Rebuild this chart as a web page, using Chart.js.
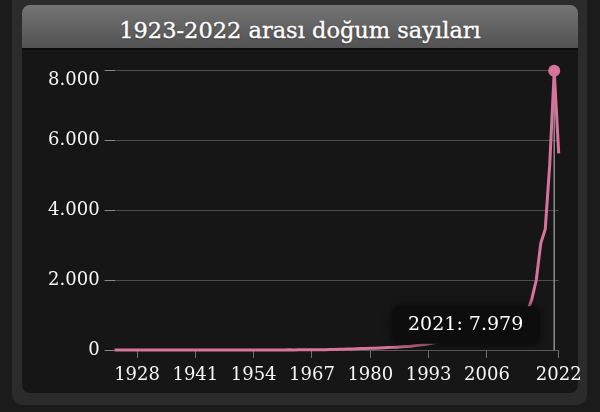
<!DOCTYPE html>
<html><head><meta charset="utf-8">
<script src="https://cdn.jsdelivr.net/npm/chart.js@4.4.0/dist/chart.umd.min.js"></script>
<style>
html,body{margin:0;padding:0;background:#1b1b1b;width:600px;height:412px;overflow:hidden;}
#card{position:absolute;left:12px;top:-12px;width:575px;height:417px;background:#2b2b2b;border-radius:10px;}
#panel{position:absolute;left:22px;top:5px;width:556px;height:388px;background:#161616;border-radius:8px;overflow:hidden;}
#titlebar{position:absolute;left:0;top:0;width:556px;height:45px;box-sizing:border-box;padding-top:7px;background:linear-gradient(#747474,#525252);border-bottom:2px solid #0c0c0c;display:flex;align-items:center;justify-content:center;color:#fff;font-family:"DejaVu Serif",serif;font-size:22.5px;-webkit-text-stroke:0.35px #fff;text-shadow:0 1px 2px rgba(0,0,0,.45);}
#c{position:absolute;left:0;top:0;}
</style></head>
<body>
<div id="card"></div>
<div id="panel"><div id="titlebar">1923-2022 arası doğum sayıları</div></div>
<canvas id="c" width="600" height="412"></canvas>
<script>
// ---- data ----
const startYear = 1923;
const births = [
  0,0,1,0,0,1,0,0,0,1,0,0,1,0,0,0,1,
  1,0,0,1,1,0,1,1,0,1,2,1,1,2,1,2,2,1,3,2,
  3,2,4,3,5,4,6,5,7,8,
  10,12,15,18,22,26,30,35,40,45,
  48,52,58,62,68,75,82,90,100,110,
  125,140,160,180,200,225,250,275,300,330,
  360,390,420,450,480,520,560,600,650,700,
  740,790,840,900,980,1100,
  1450,2000,3050,3450,5300,7979,5620
];
const xTickYears = [1928, 1941, 1954, 1967, 1980, 1993, 2006, 2022];
const yMax = 8000;
const yStep = 2000;

const years = births.map((_, i) => startYear + i);
const points = years.map((y, i) => ({x: y, y: births[i]}));
const peakIdx = births.indexOf(Math.max(...births));
const lineColor = '#d8749b';
const fmt = v => String(v).replace(/\B(?=(\d{3})+(?!\d))/g, '.');

Chart.Tooltip.positioners.peakLeft = function(elements) {
  if (!elements.length) return false;
  const ca = this.chart.chartArea;
  return {x: elements[0].element.x, y: ca.bottom - 25};
};

const crosshair = {
  id: 'crosshair',
  beforeDatasetsDraw(chart) {
    const el = chart.getDatasetMeta(0).data[peakIdx];
    if (!el) return;
    const ctx = chart.ctx;
    ctx.save();
    ctx.strokeStyle = '#8c8c8c';
    ctx.lineWidth = 1.5;
    ctx.beginPath();
    ctx.moveTo(el.x, el.y);
    ctx.lineTo(el.x, chart.chartArea.bottom);
    ctx.stroke();
    ctx.restore();
  }
};
const tipShadow = {
  id: 'tipShadow',
  beforeTooltipDraw(chart, args) {
    const t = args.tooltip;
    if (!t || !t.opacity) return;
    const ctx = chart.ctx;
    ctx.save();
    ctx.shadowColor = 'rgba(0,0,0,0.85)';
    ctx.shadowBlur = 10;
    ctx.fillStyle = '#0d0d0d';
    ctx.beginPath();
    ctx.roundRect(t.x, t.y, t.width, t.height, 7);
    ctx.fill();
    ctx.restore();
  }
};

const chart = new Chart(document.getElementById('c'), {
  type: 'line',
  data: {
    datasets: [{
      data: points,
      borderColor: lineColor,
      backgroundColor: lineColor,
      borderWidth: 3,
      tension: 0,
      fill: false,
      clip: false,
      pointRadius: ctx => ctx.dataIndex === peakIdx ? 6 : 0,
      pointHoverRadius: ctx => ctx.dataIndex === peakIdx ? 6 : 0,
      pointBorderWidth: 0,
      pointHoverBorderWidth: 0,
      pointBackgroundColor: lineColor,
      pointHoverBackgroundColor: lineColor,
      pointHoverBorderColor: lineColor
    }]
  },
  options: {
    responsive: false,
    animation: false,
    devicePixelRatio: 1,
    events: [],
    layout: {padding: {left: 40, right: 41.3, top: 70, bottom: 22}},
    plugins: {
      legend: {display: false},
      title: {display: false},
      tooltip: {
        enabled: true,
        animation: false,
        position: 'peakLeft',
        xAlign: 'right',
        yAlign: 'center',
        caretSize: 0,
        caretPadding: 16,
        backgroundColor: '#0d0d0d',
        cornerRadius: 7,
        displayColors: false,
        padding: {left: 15, right: 15, top: 7, bottom: 7},
        bodyColor: '#ffffff',
        bodyFont: {family: 'DejaVu Serif', size: 19},
        callbacks: {
          title: () => '',
          label: c => `${Math.round(c.parsed.x)}: ${fmt(c.parsed.y)}`
        }
      }
    },
    scales: {
      x: {
        type: 'linear',
        min: startYear,
        max: years[years.length - 1],
        afterBuildTicks: s => { s.ticks = xTickYears.map(v => ({value: v})); },
        afterFit: s => { s.height = 40; },
        border: {display: true, color: '#5a5a5a', width: 1},
        grid: {display: true, drawOnChartArea: false, tickLength: 8, tickColor: '#6e6e6e'},
        ticks: {
          autoSkip: false, maxRotation: 0, padding: 7,
          color: '#f6f6f6',
          font: {family: 'DejaVu Serif', size: 18, lineHeight: 1.2},
          callback: v => String(v)
        }
      },
      y: {
        min: 0,
        max: yMax,
        afterFit: s => { s.width = 74.6; },
        border: {display: false},
        grid: {color: '#4d4d4d', lineWidth: 1, tickLength: 10, tickColor: '#8a8a8a'},
        ticks: {
          stepSize: yStep,
          padding: 5,
          color: '#f6f6f6',
          font: {family: 'DejaVu Serif', size: 18, lineHeight: 1.15},
          callback: v => v === yMax ? ['', fmt(v)] : fmt(v)
        }
      }
    }
  },
  plugins: [crosshair, tipShadow]
});

chart.setActiveElements([{datasetIndex: 0, index: peakIdx}]);
chart.tooltip.setActiveElements([{datasetIndex: 0, index: peakIdx}], {x: 0, y: 0});
chart.update();
</script>
</body></html>
